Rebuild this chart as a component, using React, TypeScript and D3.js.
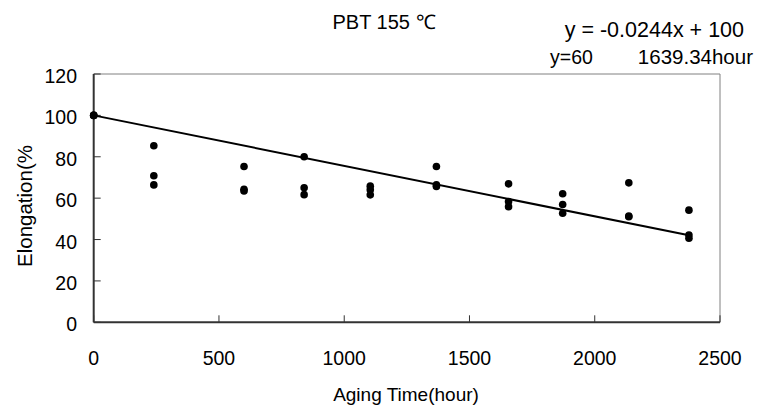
import React from "react";
import * as d3 from "d3";

const hours = [0, 0, 0, 240, 240, 240, 600, 600, 600, 840, 840, 840, 1104, 1104, 1104, 1368, 1368, 1368, 1656, 1656, 1656, 1872, 1872, 1872, 2136, 2136, 2136, 2376, 2376, 2376];
const elongation = [100, 100, 100, 85.3, 70.8, 66.4, 75.3, 64.3, 63.5, 80.0, 65.0, 61.7, 65.8, 64.0, 61.6, 75.3, 66.4, 65.6, 66.9, 58.4, 55.9, 62.1, 56.9, 52.7, 67.4, 51.4, 51.0, 54.2, 42.2, 40.6];
const xTicks = [0, 500, 1000, 1500, 2000, 2500];
const yTicks = [0, 20, 40, 60, 80, 100, 120];
const slope = -0.0244;
const intercept = 100;
const fitRange = [0, 2376];
const title = "PBT 155 ℃";
const equation = "y = -0.0244x + 100";
const note1 = "y=60";
const note2 = "1639.34hour";
const xTitle = "Aging Time(hour)";
const yTitle = "Elongation(%";

const W = 757, H = 412;
const L = 93.7, R = 720, T = 74, B = 322.3;
const FONT = "'Liberation Sans', Arial, sans-serif";

export default function App() {
  const x = d3.scaleLinear().domain([0, 2500]).range([L, R]);
  const y = d3.scaleLinear().domain([0, 120]).range([B, T]);
  const fit = d3.line<number>().x(d => x(d)).y(d => y(slope * d + intercept));
  return (
    <svg width={W} height={H} style={{ position: "absolute", left: 0, top: 0, background: "#fff" }} fontFamily={FONT}>
      <rect x={0} y={0} width={W} height={H} fill="#fff" />
      <line x1={L} x2={R} y1={T} y2={T} stroke="#808080" strokeWidth={1} />
      <line x1={R} x2={R} y1={T} y2={B} stroke="#808080" strokeWidth={1} />
      {xTicks.map(t => (
        <line key={"xt" + t} x1={x(t)} x2={x(t)} y1={B} y2={B - 7} stroke="#333" strokeWidth={1} />
      ))}
      {yTicks.map(t => (
        <line key={"yt" + t} x1={L} x2={L + 7} y1={y(t)} y2={y(t)} stroke="#333" strokeWidth={1} />
      ))}
      <line x1={L} x2={R} y1={B} y2={B} stroke="#333" strokeWidth={2} />
      <line x1={L} x2={L} y1={T} y2={B} stroke="#333" strokeWidth={2} />
      {xTicks.map(t => (
        <text key={"xl" + t} x={x(t)} y={B + 43} fontSize={19.5} textAnchor="middle" fill="#000">{t}</text>
      ))}
      {yTicks.map(t => (
        <text key={"yl" + t} x={77} y={y(t) + 9} fontSize={19.5} textAnchor="end" fill="#000">{t}</text>
      ))}
      <path d={fit(fitRange) || ""} stroke="#000" strokeWidth={2} fill="none" />
      {hours.map((h, i) => (
        <circle key={"p" + i} cx={x(h)} cy={y(elongation[i])} r={3.8} fill="#000" />
      ))}
      <text x={384} y={29} fontSize={20} textAnchor="middle" fill="#000">{title}</text>
      <text x={744} y={37} fontSize={21.5} textAnchor="end" fill="#000">{equation}</text>
      <text x={550} y={64} fontSize={19.5} textAnchor="start" fill="#000">{note1}</text>
      <text x={753} y={64} fontSize={20.5} textAnchor="end" fill="#000">{note2}</text>
      <text x={406} y={401} fontSize={19} textAnchor="middle" fill="#000">{xTitle}</text>
      <text transform="translate(32,206) rotate(-90)" fontSize={20.5} textAnchor="middle" fill="#000">{yTitle}</text>
    </svg>
  );
}
